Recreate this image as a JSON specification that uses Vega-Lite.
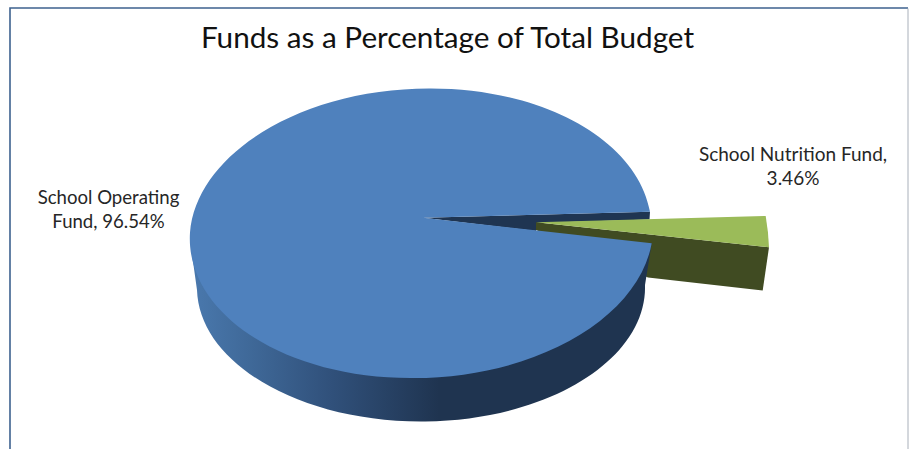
{
  "$schema": "https://vega.github.io/schema/vega-lite/v6.json",
  "width": 910,
  "height": 449,
  "padding": 0,
  "autosize": {"type": "none"},
  "background": "white",
  "config": {"view": {"stroke": null}},
  "title": {
    "text": "Funds as a Percentage of Total Budget",
    "orient": "top",
    "anchor": "middle",
    "frame": "group",
    "font": "Lato",
    "fontSize": 29.7,
    "fontWeight": "normal",
    "color": "#111111",
    "baseline": "alphabetic",
    "offset": 0,
    "dy": 78,
    "dx": -7.5
  },
  "data": {
    "values": [
      {"fund": "School Operating Fund", "share": 96.54, "label": "School Operating\nFund, 96.54%"},
      {"fund": "School Nutrition Fund", "share": 3.46, "label": "School Nutrition Fund,\n3.46%"}
    ]
  },
  "layer": [
    {
      "mark": {"type": "point", "filled": false, "size": 4, "opacity": 1, "stroke": "#3E628F", "strokeWidth": 1.6, "shape": "M-445,230 L-445,-216.5 L453,-216.5"},
      "transform": [{"filter": "datum.share > 50"}],
      "encoding": {}
    },
    {
      "mark": {"type": "point", "filled": false, "size": 4, "opacity": 1, "stroke": "#A9B0BA", "strokeWidth": 1, "shape": "M453,-216 L453,230"},
      "transform": [{"filter": "datum.share > 50"}],
      "encoding": {}
    },
    {
      "transform": [{"filter": "datum.share > 50"}],
      "mark": {"type": "point", "filled": true, "size": 4, "opacity": 1, "fill": "#1F3552", "shape": "M-31.7,-6.8 L195,-12.8 L194.5,-5 L81,-1.5 L81,6.5 Z"},
      "encoding": {}
    },
    {
      "transform": [{"filter": "datum.share < 50"}],
      "mark": {"type": "point", "filled": true, "size": 4, "opacity": 1, "fill": "#404B22", "shape": "M81,-2.2 L314,22.8 L307.7,66 L193,53 L81,5.5 Z"},
      "encoding": {}
    },
    {
      "transform": [{"filter": "datum.share < 50"}],
      "mark": {"type": "point", "filled": true, "size": 4, "opacity": 1, "fill": "#9BBB59", "shape": "M81,-2.2 L310.7,-8.5 Q313.5,8 314,22.8 Z"},
      "encoding": {}
    },
    {
      "transform": [{"filter": "datum.share > 50"}],
      "mark": {
        "type": "point", "filled": true, "size": 4, "opacity": 1,
        "fill": {
          "gradient": "linear", "x1": 0, "y1": 0, "x2": 1, "y2": 0,
          "stops": [
            {"offset": 0, "color": "#4A79AE"},
            {"offset": 0.12, "color": "#406A9A"},
            {"offset": 0.31, "color": "#30507A"},
            {"offset": 0.54, "color": "#1F3450"},
            {"offset": 1, "color": "#1F3450"}
          ]
        },
        "shape": "M-265,15.5 L-258,65.5 A224,134,0,0,0,190,60.5 L196.7,18.8 Z"
      },
      "encoding": {}
    },
    {
      "transform": [{"filter": "datum.share > 50"}],
      "mark": {"type": "point", "filled": true, "size": 4, "opacity": 1, "fill": "#4F81BD", "shape": "M-31.7,-6.8 L195,-12.8 A230.3,145.3,-2.47,0,0,-26,-136 A230.3,145.3,-2.47,0,0,-265,8 A230.3,145.3,-2.47,0,0,-44.5,153.5 A230.3,145.3,-2.47,0,0,196.7,18.8 Z"},
      "encoding": {}
    },
    {
      "transform": [{"filter": "datum.share > 50"}],
      "mark": {"type": "text", "font": "Lato", "fontSize": 18.6, "lineHeight": 24.5, "lineBreak": "\n", "color": "#262626", "align": "center", "baseline": "alphabetic", "dx": -346.5, "dy": -21},
      "encoding": {"text": {"field": "label"}}
    },
    {
      "transform": [{"filter": "datum.share < 50"}],
      "mark": {"type": "text", "font": "Lato", "fontSize": 19, "lineHeight": 24, "lineBreak": "\n", "color": "#262626", "align": "center", "baseline": "alphabetic", "dx": 338, "dy": -64},
      "encoding": {"text": {"field": "label"}}
    }
  ]
}
